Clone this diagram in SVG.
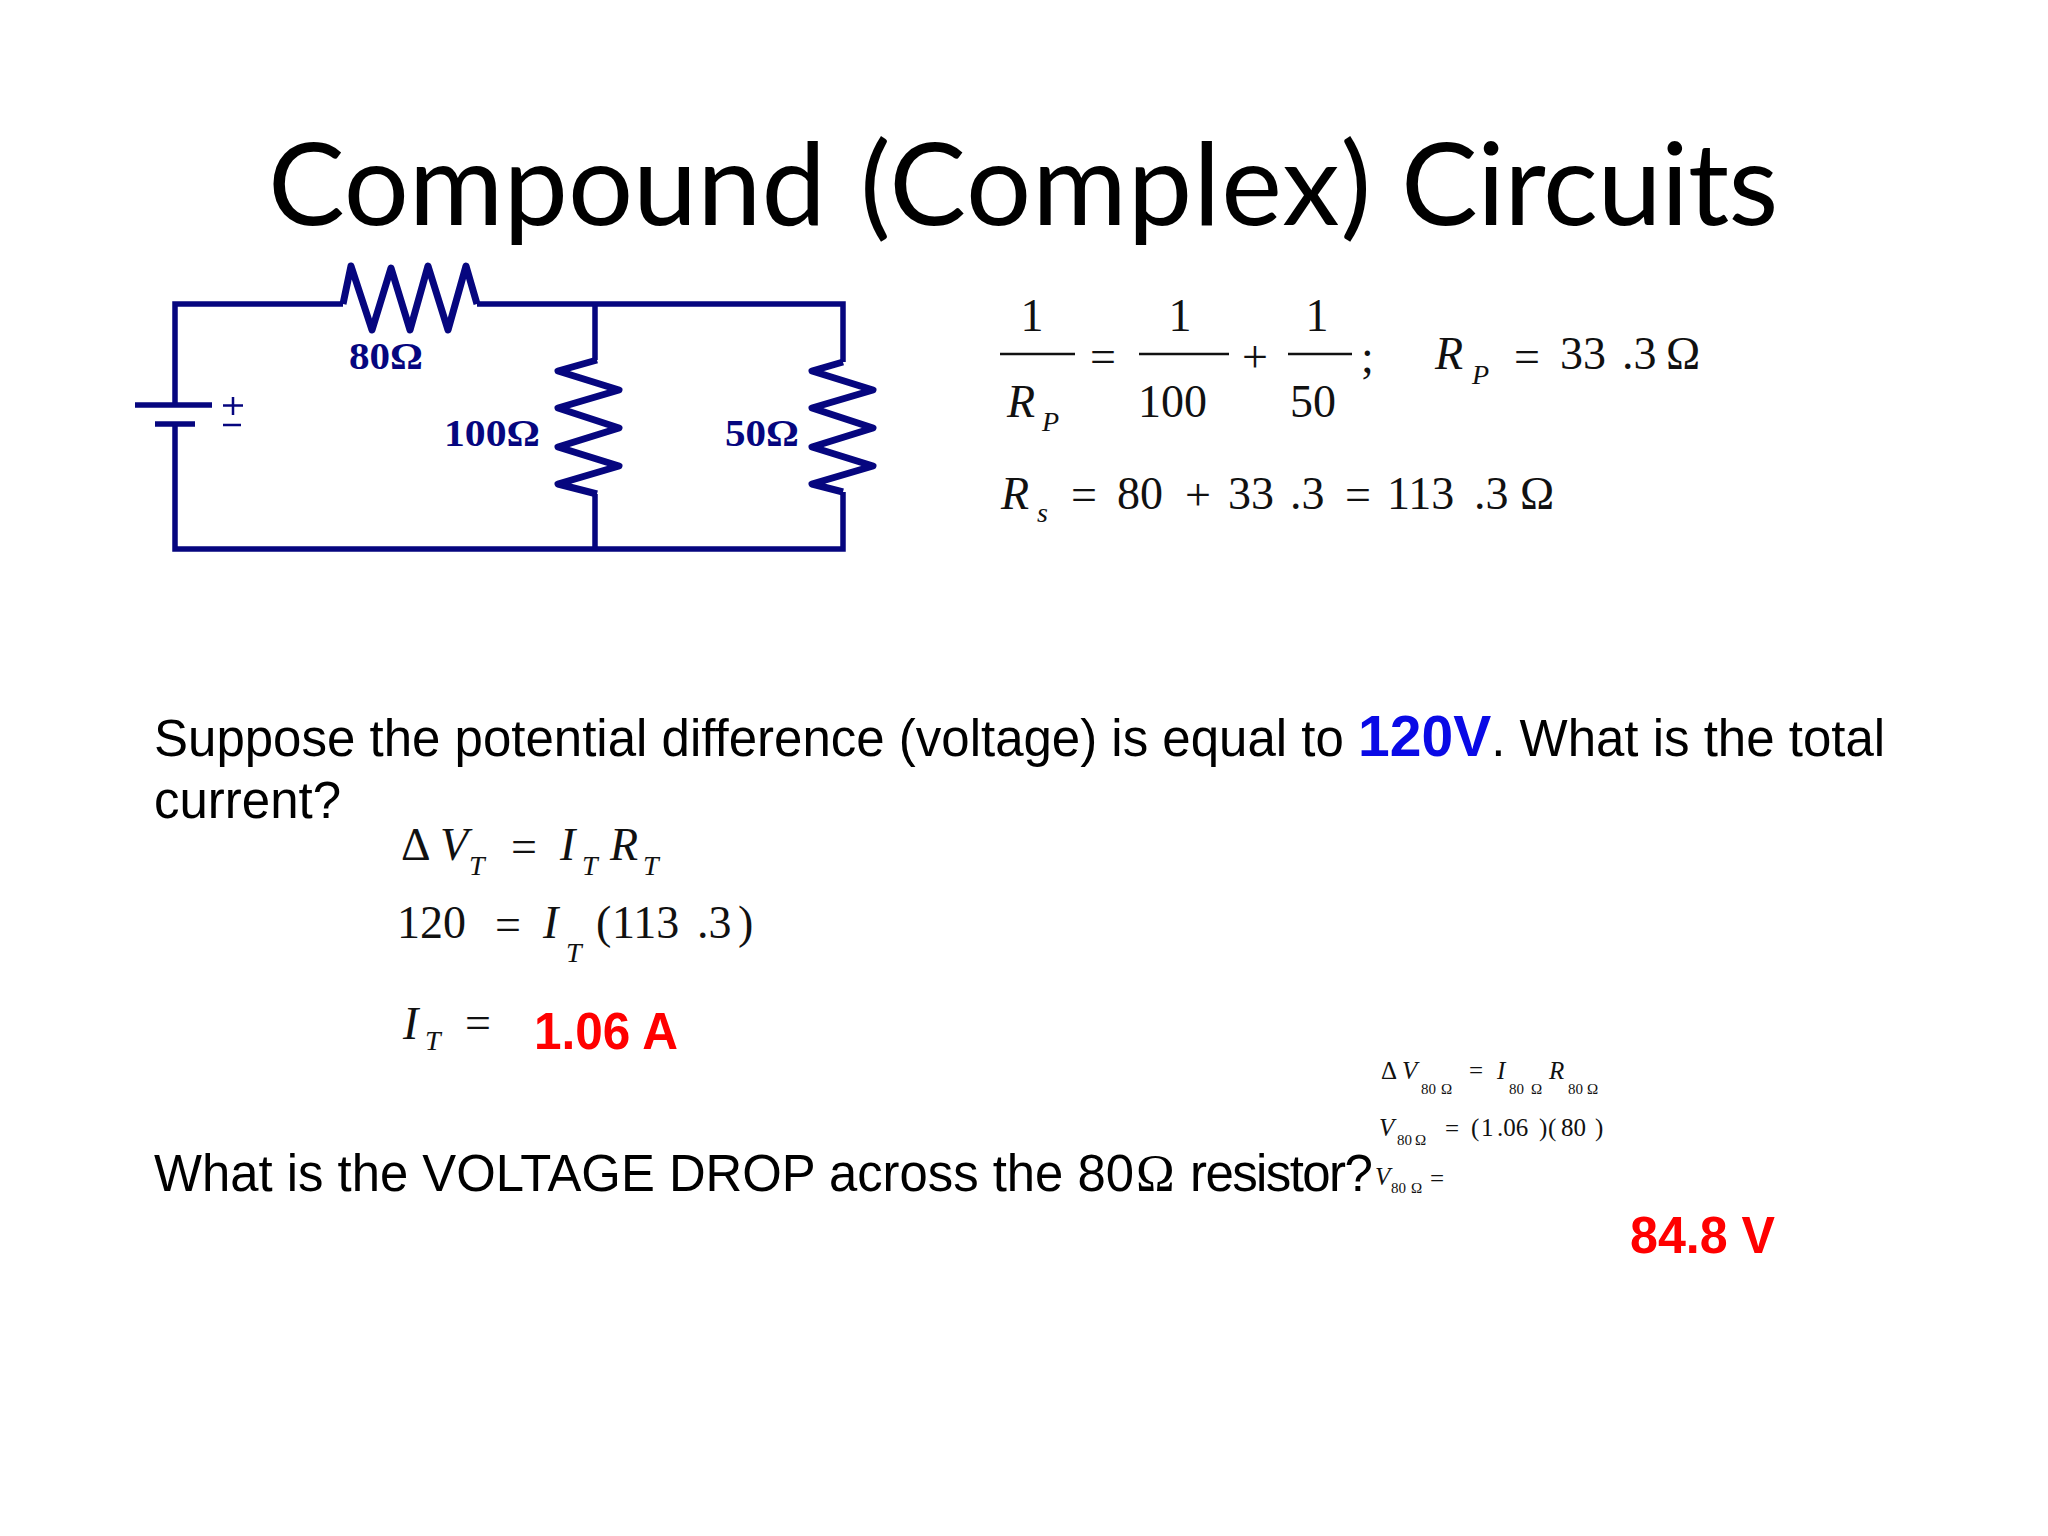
<svg xmlns="http://www.w3.org/2000/svg" width="2048" height="1536" viewBox="0 0 2048 1536">
<style>
.w{fill:none;stroke:#06067f;stroke-width:5.500}
.z{fill:none;stroke:#06067f;stroke-width:7;stroke-linejoin:round}
.cl{font-family:"Liberation Serif",serif;font-weight:bold;fill:#06067f;font-size:37px}
.s{font-family:"Liberation Sans",Arial,sans-serif;fill:#000;font-size:51px}
.red{font-family:"Liberation Sans",Arial,sans-serif;font-weight:bold;fill:#f00;font-size:52px}
.m{font-family:"Liberation Serif",serif;fill:#111;font-size:46px}
.i{font-style:italic}
.sub{font-size:28px}
.c{text-anchor:middle}
.m2{font-family:"Liberation Serif",serif;fill:#111;font-size:25px}
.sm{font-size:15px}
.rule{stroke:#111;stroke-width:2.5}
</style>
<rect width="2048" height="1536" fill="#fff"/>
<text id="title" x="268" y="225" font-family="Lato, 'Open Sans', sans-serif" font-size="115" fill="#000">Compound <tspan x="860" letter-spacing="1">(Complex)</tspan> <tspan x="1401" letter-spacing="-0.6">Circuits</tspan></text>
<g id="connectors">
<path class="w" d="M175 405V304H343M477 304H843V362M595 304V360M595 494V549M843 492V549H175V425"/>
</g>
<g id="battery">
<path class="w" d="M135 405H212M155 424H195"/>
<path fill="none" stroke="#06067f" stroke-width="2.500" d="M223 405.500H243M233 397V415M223 425H241"/>
</g>
<g id="r80">
<polyline class="z" points="343,304 351,266 372,330 391,268 410,330 428,266 448,330 466,266 477,304"/>
<text class="cl" x="349" y="369" textLength="74" lengthAdjust="spacingAndGlyphs">80Ω</text>
</g>
<g id="r100">
<polyline class="z" points="597,360 558,371 619,390 558,408 619,428 558,447 619,466 558,484 597,494"/>
<text class="cl" x="444" y="446" textLength="96" lengthAdjust="spacingAndGlyphs">100Ω</text>
</g>
<g id="r50">
<polyline class="z" points="843,362 812,371 873,390 812,408 873,428 812,447 873,466 812,484 843,492"/>
<text class="cl" x="725" y="446" textLength="74" lengthAdjust="spacingAndGlyphs">50Ω</text>
</g>
<g id="eq-parallel" class="m">
<text x="1032" y="331" class="c">1</text>
<line class="rule" x1="1000" y1="354" x2="1075" y2="354"/>
<text x="1007" y="417" class="i">R</text><text x="1042" y="431" class="i sub">P</text>
<text x="1103" y="372" class="c">=</text>
<text x="1180" y="331" class="c">1</text>
<line class="rule" x1="1139" y1="354" x2="1229" y2="354"/>
<text x="1138" y="417">100</text>
<text x="1255" y="372" class="c">+</text>
<text x="1317" y="331" class="c">1</text>
<line class="rule" x1="1288" y1="354" x2="1352" y2="354"/>
<text x="1290" y="417">50</text>
<text x="1361" y="372">;</text>
<text x="1435" y="369" class="i">R</text><text x="1472" y="384" class="i sub">P</text>
<text x="1527" y="372" class="c">=</text>
<text x="1560" y="369">33</text><text x="1622" y="369">.3</text><text x="1666" y="369">Ω</text>
</g>
<g id="eq-series" class="m">
<text x="1001" y="509" class="i">R</text><text x="1037" y="522" class="i sub">s</text>
<text x="1084" y="510" class="c">=</text>
<text x="1117" y="509">80</text>
<text x="1198" y="510" class="c">+</text>
<text x="1228" y="509">33</text><text x="1290" y="509">.3</text>
<text x="1358" y="510" class="c">=</text>
<text x="1387" y="509">113</text><text x="1474" y="509">.3</text><text x="1520" y="509">Ω</text>
</g>
<text id="q1" class="s" x="154" y="756">Suppose the potential difference (voltage) is equal to <tspan font-weight="bold" fill="#0a0ae6" font-size="57">120V</tspan>. What is the total</text>
<text id="q1b" class="s" x="154" y="818">current?</text>
<g id="eq-ohm" class="m">
<text x="401" y="860">Δ</text><text x="440" y="860" class="i">V</text><text x="469" y="875" class="i sub">T</text>
<text x="524" y="862" class="c">=</text>
<text x="560" y="860" class="i">I</text><text x="582" y="875" class="i sub">T</text>
<text x="610" y="860" class="i">R</text><text x="643" y="875" class="i sub">T</text>
<text x="397" y="938">120</text>
<text x="508" y="940" class="c">=</text>
<text x="543" y="938" class="i">I</text><text x="566" y="962" class="i sub">T</text>
<text x="596" y="938">(</text><text x="612" y="938">113</text><text x="697" y="938">.3</text><text x="738" y="938">)</text>
<text x="403" y="1039" class="i">I</text><text x="425" y="1050" class="i sub">T</text>
<text x="478" y="1038" class="c">=</text>
</g>
<text id="ans1" class="red" x="534" y="1049" textLength="144" lengthAdjust="spacingAndGlyphs">1.06 A</text>
<text id="q2" class="s" x="154" y="1191" textLength="980" lengthAdjust="spacingAndGlyphs">What is the VOLTAGE DROP across the 80</text>
<text id="q2o" x="1136" y="1191" font-family="Liberation Serif, serif" font-size="52">Ω</text>
<text id="q2b" class="s" x="1190" y="1191" letter-spacing="-1.6">resistor?</text>
<g id="eq-drop" class="m2">
<text x="1381" y="1079">Δ</text><text x="1402" y="1079" class="i">V</text><text x="1421" y="1094" class="sm">80</text><text x="1441" y="1094" class="sm">Ω</text>
<text x="1476" y="1079" class="c">=</text>
<text x="1497" y="1079" class="i">I</text><text x="1509" y="1094" class="sm">80</text><text x="1531" y="1094" class="sm">Ω</text>
<text x="1549" y="1079" class="i">R</text><text x="1568" y="1094" class="sm">80</text><text x="1587" y="1094" class="sm">Ω</text>
<text x="1379" y="1136" class="i">V</text><text x="1397" y="1145" class="sm">80</text><text x="1415" y="1145" class="sm">Ω</text>
<text x="1452" y="1137" class="c">=</text>
<text x="1471" y="1136">(</text><text x="1481" y="1136">1</text><text x="1497" y="1136">.06</text><text x="1539" y="1136">)</text>
<text x="1548" y="1136">(</text><text x="1561" y="1136">80</text><text x="1595" y="1136">)</text>
<text x="1375" y="1185" class="i">V</text><text x="1391" y="1193" class="sm">80</text><text x="1411" y="1193" class="sm">Ω</text>
<text x="1437" y="1187" class="c">=</text>
</g>
<text id="ans2" class="red" x="1630" y="1253" textLength="145" lengthAdjust="spacingAndGlyphs">84.8 V</text>
</svg>
